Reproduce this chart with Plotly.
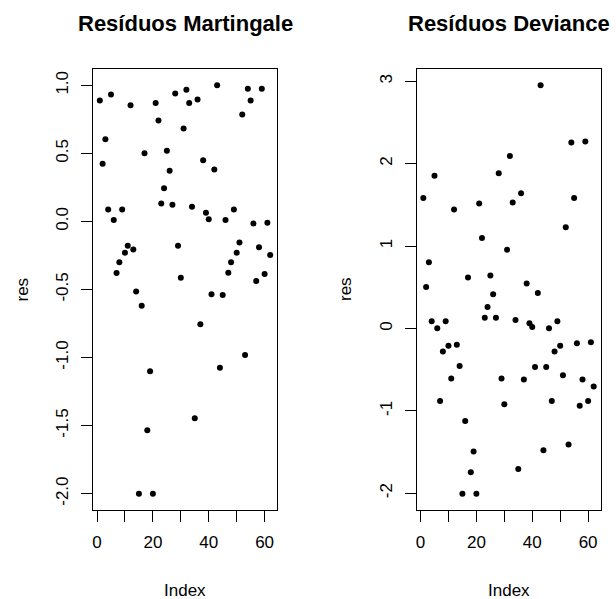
import plotly.graph_objects as go

# ---- data ----
index = list(range(1, 63))

res_martingale = [
    0.888, 0.424, 0.604, 0.088, 0.933, 0.010, -0.378, -0.300, 0.088, -0.230,
    -0.178, 0.854, -0.206, -0.514, -2.000, -0.619, 0.501, -1.534, -1.101, -2.000,
    0.871, 0.742, 0.132, 0.244, 0.519, 0.372, 0.123, 0.940, -0.178, -0.413,
    0.683, 0.967, 0.871, 0.108, -1.446, 0.896, -0.756, 0.450, 0.064, 0.017,
    -0.534, 0.382, 1.000, -1.074, -0.541, 0.010, -0.377, -0.300, 0.088, -0.230,
    -0.154, 0.786, -0.982, 0.974, 0.888, -0.015, -0.438, -0.189, 0.974, -0.387,
    -0.010, -0.247,
]

res_deviance = [
    1.584, 0.504, 0.802, 0.086, 1.854, 0.001, -0.880, -0.280, 0.086, -0.209,
    -0.609, 1.442, -0.197, -0.455, -2.005, -1.123, 0.617, -1.746, -1.492, -2.005,
    1.515, 1.098, 0.130, 0.261, 0.641, 0.414, 0.130, 1.882, -0.609, -0.921,
    0.956, 2.093, 1.527, 0.103, -1.705, 1.640, -0.621, 0.544, 0.062, 0.018,
    -0.467, 0.431, 2.950, -1.479, -0.467, 0.001, -0.880, -0.280, 0.086, -0.209,
    -0.569, 1.227, -1.407, 2.255, 1.584, -0.181, -0.937, -0.621, 2.267, -0.880,
    -0.169, -0.706,
]

titles = ["Resíduos Martingale", "Resíduos Deviance"]
x_ticks = [0, 20, 40, 60]
x_ticktext = ["0", "20", "40", "60"]
y1_ticks = [-2.0, -1.5, -1.0, -0.5, 0.0, 0.5, 1.0]
y1_ticktext = ["-2.0", "-1.5", "-1.0", "-0.5", "0.0", "0.5", "1.0"]
y2_ticks = [-2, -1, 0, 1, 2, 3]
y2_ticktext = ["-2", "-1", "0", "1", "2", "3"]

# ---- layout geometry (pixels) ----
W, H = 616, 599
FONT = "Liberation Sans, Arial, sans-serif"
boxes = [(93, 277), (416.5, 600.5)]
top_px, bot_px = 69, 510


def rng(vals):
    lo, hi = min(vals), max(vals)
    pad = 0.04 * (hi - lo)
    return [lo - pad, hi + pad]


fig = go.Figure()
fig.add_trace(go.Scatter(x=index, y=res_martingale, mode="markers",
                         marker=dict(color="black", size=6),
                         xaxis="x", yaxis="y", showlegend=False))
fig.add_trace(go.Scatter(x=index, y=res_deviance, mode="markers",
                         marker=dict(color="black", size=6),
                         xaxis="x2", yaxis="y2", showlegend=False))

ydom = [(H - bot_px) / H, (H - top_px) / H]
tickfont = dict(family=FONT, size=17, color="black")

common_x = dict(range=rng(index), tickvals=x_ticks, ticktext=x_ticktext,
                ticks="outside", ticklen=11, tickcolor="black", tickwidth=1,
                showline=True, mirror=True, linecolor="black", linewidth=1,
                showgrid=False, zeroline=False, tickfont=tickfont,
                ticklabelstandoff=6,
                minor=dict(dtick=10, tick0=0, ticks="outside", ticklen=11,
                           tickcolor="black", tickwidth=1, showgrid=False))
common_y = dict(ticks="outside", ticklen=11, tickcolor="black", tickwidth=1,
                showline=True, mirror=True, linecolor="black", linewidth=1,
                showgrid=False, zeroline=False, tickfont=tickfont,
                tickangle=-90, ticklabelstandoff=6)

fig.update_layout(
    width=W, height=H, autosize=False,
    margin=dict(l=0, r=0, t=0, b=0),
    paper_bgcolor="white", plot_bgcolor="white",
    xaxis=dict(domain=[boxes[0][0] / W, boxes[0][1] / W], anchor="y", **common_x),
    xaxis2=dict(domain=[boxes[1][0] / W, boxes[1][1] / W], anchor="y2", **common_x),
    yaxis=dict(domain=ydom, anchor="x", range=rng(res_martingale),
               tickvals=y1_ticks, ticktext=y1_ticktext, **common_y),
    yaxis2=dict(domain=ydom, anchor="x2", range=rng(res_deviance),
                tickvals=y2_ticks, ticktext=y2_ticktext, **common_y),
)

annotations = []
for i, (x0, x1) in enumerate(boxes):
    cx = (x0 + x1) / 2 / W
    annotations.append(dict(text="<b>" + titles[i] + "</b>", x=cx, y=1 - 24 / H,
                            xref="paper", yref="paper", showarrow=False,
                            xanchor="center", yanchor="middle",
                            font=dict(family=FONT, size=22, color="black")))
    annotations.append(dict(text="Index", x=cx, y=1 - 590 / H,
                            xref="paper", yref="paper", showarrow=False,
                            xanchor="center", yanchor="middle",
                            font=dict(family=FONT, size=17, color="black")))
    annotations.append(dict(text="res", x=(x0 - 71) / W, y=1 - 289.5 / H,
                            xref="paper", yref="paper", showarrow=False,
                            xanchor="center", yanchor="middle", textangle=-90,
                            font=dict(family=FONT, size=17, color="black")))
fig.update_layout(annotations=annotations)

fig.write_html("out.html")
